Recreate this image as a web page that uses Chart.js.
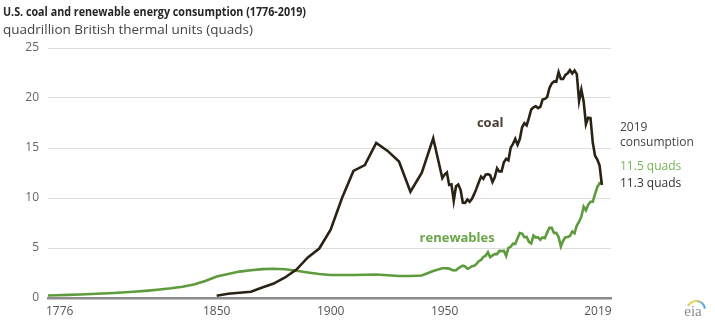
<!DOCTYPE html>
<html><head><meta charset="utf-8">
<script src="https://cdn.jsdelivr.net/npm/chart.js@4.4.0/dist/chart.umd.min.js"></script>
<style>html,body{margin:0;padding:0;background:#fff;}#wrap{width:715px;height:324px;position:relative}</style>
</head><body><div id="wrap"><canvas id="c" width="715" height="324"></canvas></div>
<script>
const titleText = "U.S. coal and renewable energy consumption (1776-2019)";
const subtitleText = "quadrillion British thermal units (quads)";
const xTickLabels = [1776, 1850, 1900, 1950, 2019];
const yTickValues = [0, 5, 10, 15, 20, 25];

const coalYears = [1850,1855,1860,1865,1870,1875,1880,1885,1890,1895,1900,1905,1910,1915,1920,1925,1930,1935,1940,1945,
  1949,1950,1951,1952,1953,1954,1955,1956,1957,1958,1959,1960,1961,1962,1963,1964,1965,1966,1967,1968,1969,
  1970,1971,1972,1973,1974,1975,1976,1977,1978,1979,1980,1981,1982,1983,1984,1985,1986,1987,1988,1989,
  1990,1991,1992,1993,1994,1995,1996,1997,1998,1999,2000,2001,2002,2003,2004,2005,2006,2007,2008,2009,
  2010,2011,2012,2013,2014,2015,2016,2017,2018,2019];
const coalValues = [0.22,0.42,0.52,0.63,1.05,1.44,2.05,2.84,4.06,4.95,6.84,10.0,12.71,13.29,15.5,14.71,13.64,10.63,12.54,15.97,
  11.98,12.35,12.55,11.31,11.37,9.72,11.17,11.35,10.82,9.53,9.52,9.84,9.62,9.91,10.41,10.96,11.58,12.14,11.91,12.33,12.38,
  12.27,11.6,12.08,12.97,12.66,12.66,13.58,13.92,13.77,15.04,15.42,15.91,15.32,15.89,17.07,17.48,17.26,18.01,18.85,19.07,
  19.17,18.99,19.12,19.84,19.91,20.09,21.0,21.45,21.66,21.62,22.58,21.91,21.9,22.32,22.47,22.8,22.45,22.75,22.39,19.69,
  20.83,19.66,17.38,18.04,18.0,15.55,14.23,13.84,13.25,11.3];

const renewYears = [1776,1780,1785,1790,1795,1800,1805,1810,1815,1820,1825,1830,1835,1840,1845,1850,1855,1860,1865,1870,1875,
  1880,1885,1890,1895,1900,1905,1910,1915,1920,1925,1930,1935,1940,1945,
  1949,1950,1951,1952,1953,1954,1955,1956,1957,1958,1959,1960,1961,1962,1963,1964,1965,1966,1967,1968,1969,
  1970,1971,1972,1973,1974,1975,1976,1977,1978,1979,1980,1981,1982,1983,1984,1985,1986,1987,1988,1989,
  1990,1991,1992,1993,1994,1995,1996,1997,1998,1999,2000,2001,2002,2003,2004,2005,2006,2007,2008,2009,
  2010,2011,2012,2013,2014,2015,2016,2017,2018,2019];
const renewValues = [0.25,0.28,0.31,0.35,0.4,0.45,0.5,0.57,0.65,0.74,0.85,0.97,1.12,1.35,1.7,2.14,2.4,2.64,2.78,2.89,2.92,
  2.87,2.72,2.55,2.4,2.3,2.3,2.3,2.32,2.35,2.28,2.2,2.2,2.25,2.7,
  2.97,2.98,2.96,2.94,2.83,2.75,2.78,2.97,3.11,3.23,3.16,2.93,3.01,3.19,3.23,3.41,3.68,3.81,4.11,4.23,4.58,
  4.08,4.26,4.39,4.39,4.71,4.69,4.73,4.21,5.01,5.12,5.43,5.41,5.98,6.5,6.44,6.08,6.11,5.62,5.46,6.24,
  6.04,6.07,5.82,6.08,5.99,6.56,7.01,7.01,6.49,6.52,6.1,5.16,5.73,6.08,6.1,6.2,6.66,6.48,7.25,7.63,
  8.13,9.13,8.76,9.34,9.62,9.63,10.38,11.1,11.5,11.5];

const COAL = "#2b2216";
const GREEN = "#5e9b3c";
const FONT = "'Open Sans', 'Noto Sans', sans-serif";

const annotPlugin = {
  id: 'annot',
  afterDraw(chart) {
    const ctx = chart.ctx;
    const xs = chart.scales.x, ys = chart.scales.y;
    ctx.save();
    ctx.textBaseline = 'middle';
    ctx.textAlign = 'left';
    ctx.fillStyle = '#262626';
    ctx.font = "bold 12.5px " + FONT;
    ctx.fillText(titleText, 3, 12, 303);
    ctx.fillStyle = '#444';
    ctx.font = "13.5px " + FONT;
    ctx.fillText(subtitleText, 3, 30, 282);

    // x tick labels at scale positions
    ctx.fillStyle = '#555';
    ctx.font = "12px " + FONT;
    xTickLabels.forEach((v, i) => {
      const px = xs.getPixelForValue(v);
      if (i === 0) { ctx.textAlign = 'left'; ctx.fillText(String(v), px - 2, 312); }
      else { ctx.textAlign = 'center'; ctx.fillText(String(v), px - (v === 2019 ? 4 : 0), 312); }
    });

    // series labels
    ctx.textAlign = 'center';
    ctx.font = "bold 13px " + FONT;
    ctx.fillStyle = '#4a3f33';
    ctx.fillText("coal", xs.getPixelForValue(1970), ys.getPixelForValue(17.5));
    ctx.fillStyle = '#6aa64a';
    ctx.fillText("renewables", xs.getPixelForValue(1955.5), ys.getPixelForValue(6.0));

    // right side annotation
    ctx.textAlign = 'left';
    ctx.font = "12px " + FONT;
    ctx.fillStyle = '#444';
    ctx.fillText("2019", 620, 128);
    ctx.fillText("consumption", 620, 143);
    ctx.fillStyle = '#78b255';
    ctx.fillText("11.5 quads", 620, 167);
    ctx.fillStyle = '#333';
    ctx.fillText("11.3 quads", 620, 184);

    // eia logo
    ctx.font = "15px 'Liberation Serif', serif";
    ctx.fillStyle = '#8a8a8a';
    ctx.textAlign = 'center';
    ctx.fillText("eia", 693, 312);
    ctx.lineWidth = 2;
    const g = ctx.createLinearGradient(684, 0, 704, 0);
    g.addColorStop(0, '#9ccc65'); g.addColorStop(0.5, '#ffd54f'); g.addColorStop(1, '#4fa3e0');
    ctx.strokeStyle = g;
    ctx.beginPath();
    ctx.arc(696, 310, 9, Math.PI * 1.15, Math.PI * 1.95);
    ctx.stroke();
    ctx.restore();
  }
};

new Chart(document.getElementById('c'), {
  type: 'line',
  data: {
    datasets: [
      { label: 'coal', data: coalYears.map((y, i) => ({x: y, y: coalValues[i]})), borderColor: COAL, borderWidth: 2.6, pointRadius: 0, tension: 0, fill: false },
      { label: 'renewables', data: renewYears.map((y, i) => ({x: y, y: renewValues[i]})), borderColor: GREEN, borderWidth: 2.6, pointRadius: 0, tension: 0, fill: false }
    ]
  },
  options: {
    responsive: false,
    animation: false,
    layout: { padding: { left: 0, right: 104, top: 48, bottom: 0 } },
    plugins: { legend: { display: false }, tooltip: { enabled: false }, title: { display: false } },
    scales: {
      x: {
        type: 'linear', min: 1776, max: 2023,
        afterBuildTicks: (s) => { s.ticks = xTickLabels.map(v => ({value: v})); },
        afterFit: (s) => { s.height = 26; },
        ticks: { display: false },
        grid: { color: 'rgba(0,0,0,0)', drawTicks: false },
        border: { display: true, color: '#8c8c8c', width: 2.5 }
      },
      y: {
        min: 0, max: 25,
        afterBuildTicks: (s) => { s.ticks = yTickValues.map(v => ({value: v})); },
        afterFit: (s) => { s.width = 48; },
        ticks: { color: '#666', font: { family: FONT, size: 12 }, padding: 9 },
        grid: { color: '#dedede', lineWidth: 1, drawTicks: false },
        border: { display: false }
      }
    }
  },
  plugins: [annotPlugin]
});
</script>
</body></html>
